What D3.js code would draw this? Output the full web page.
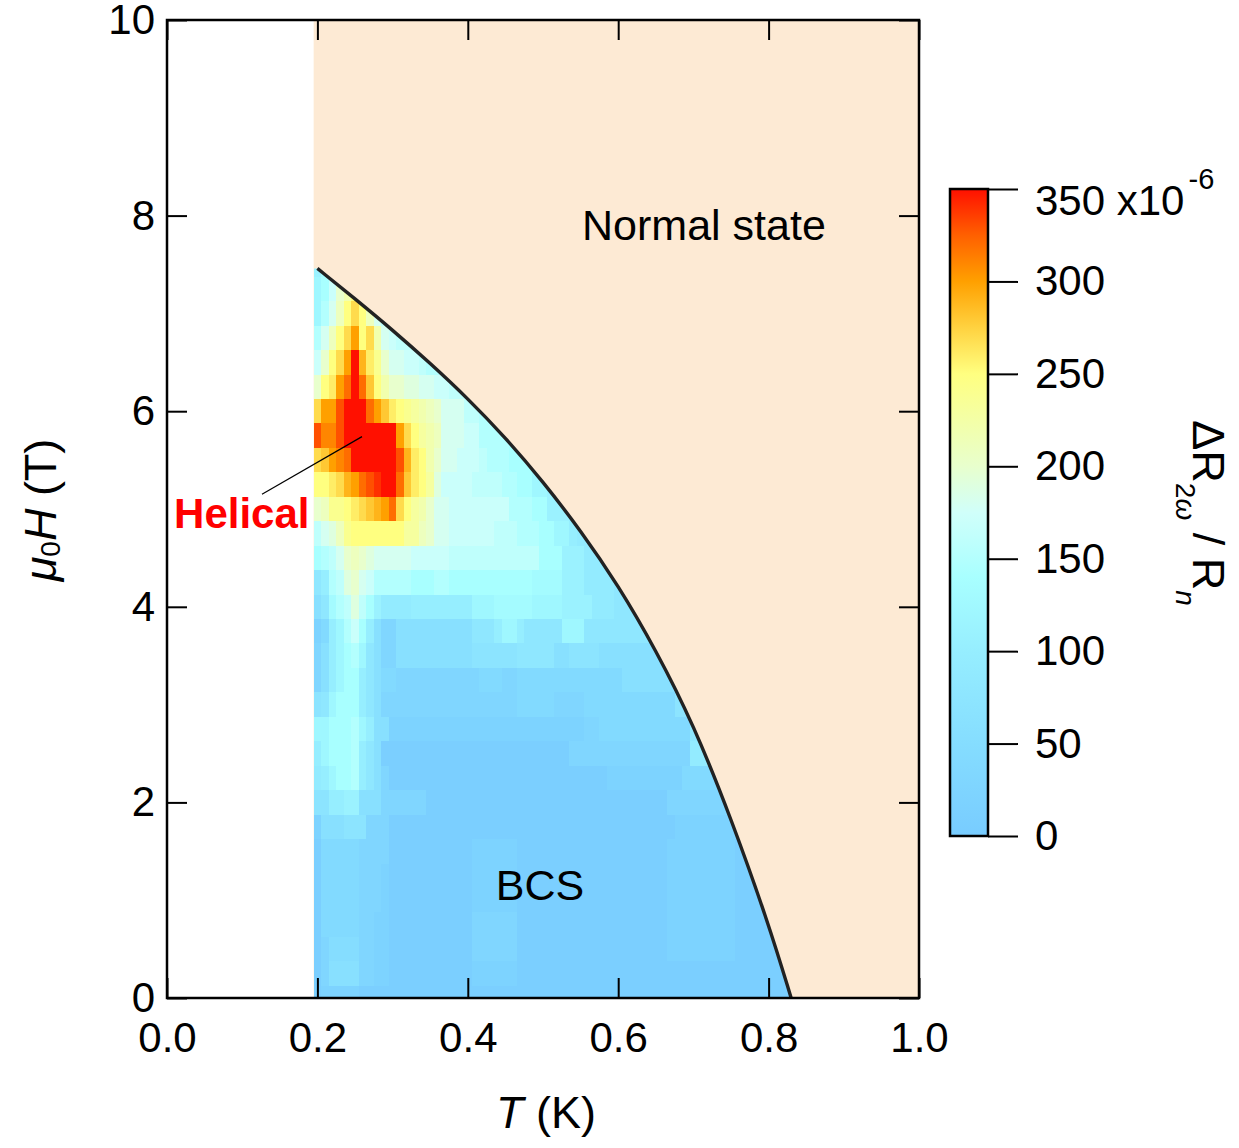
<!DOCTYPE html>
<html>
<head>
<meta charset="utf-8">
<script src="https://cdn.jsdelivr.net/npm/d3@7"></script>
<style>
body { margin: 0; background: #fff; }
text { font-family: "Liberation Sans", Arial, sans-serif; fill: #000; }
</style>
</head>
<body>
<svg id="chart" width="1239" height="1148"></svg>
<script>
// temperature columns (K), one per heatmap column
const temps = [0.20, 0.21, 0.22, 0.23, 0.24, 0.25, 0.26, 0.27, 0.28, 0.29,
  0.30, 0.31, 0.32, 0.33, 0.34, 0.35, 0.36, 0.37, 0.38, 0.39,
  0.40, 0.41, 0.42, 0.43, 0.44, 0.45, 0.46, 0.47, 0.48, 0.49,
  0.50, 0.51, 0.52, 0.53, 0.54, 0.55, 0.56, 0.57, 0.58, 0.59,
  0.60, 0.61, 0.62, 0.63, 0.64, 0.65, 0.66, 0.67, 0.68, 0.69,
  0.70, 0.71, 0.72, 0.73, 0.74, 0.75, 0.76, 0.77, 0.78, 0.79,
  0.80, 0.81, 0.82, 0.83];

// field rows (T), top to bottom
const fields = [7.5, 7.25, 7, 6.75, 6.5, 6.25, 6, 5.75, 5.5, 5.25, 5, 4.75, 4.5, 4.25, 4,
  3.75, 3.5, 3.25, 3, 2.75, 2.5, 2.25, 2, 1.75, 1.5, 1.25, 1, 0.75, 0.5, 0.25, 0];

// dR2w/Rn (x1e-6), one char per cell, base-36 digit = value / 10
// (0 -> 0, a -> 100, k -> 200, u -> 300, z -> 350). cells past the row end = no data.
const rowCodes = [
  "bdgik",
  "cehkmpnkih",
  "cfilprpliggff",
  "filpruprmihggffe",
  "hkpruztqokiihhgffeee",
  "kpquwzwspmkkjjiihhgggeed",
  "ruuxzzzwusqponmlkiiiggffeed",
  "xvvxzzzzzzzurpnmliiihhffffeeedd",
  "rsuvwzzzzzzxtqpmkiihhhgfffeeedcc",
  "ppqrtuwxyzzwsqpnjhhhhggggffeeccbbbb",
  "kloopqrstuwrpnmkiihhhhhhhhfffeebbbaaa",
  "gijlopppppppnnlkiihhhhhhgggfffeecca99999",
  "efgiklkjiiiiihhhhhggggggggggggeeebbb999988",
  "8afgjkihfffffeeeffeeeeeeeeeeeddddbbb99998888",
  "68dfgjgeb9999aaaaaaaacccdddddccccbbbb999888888",
  "24acfhea6336666666666888acca88888ccc888888888888",
  "36acefc8633666666666677777788888667777666666666666",
  "36aceea864433333333333444334444444444444466666666666",
  "78ceeea8633333333333333333344444333344444444444477777",
  "cceeefca6622222222222222222222222222334444444444448888",
  "aceeefa861111111111111111111111111333333333333333399999",
  "9aceefa8631111111111111111111111111111122222222224444444",
  "77aabb6663333331111111111111111111111111111111133333333333",
  "266677733311111111111111111111111111111111111111222222222222",
  "1444443333111111111112222221111111111111111111122222222211111",
  "14444433321111111111122222211111111111111111111222222222111111",
  "144444333211111111111222222111111111111111111112222222221111111",
  "1444443322111111111113333331111111111111111111122222222211111111",
  "1355553322111111111113333331111111111111111111122222222211111111",
  "1366663322111111111112222221111111111111111111111111111111111111",
  "1222221111111111111111111111111111111111111111111111111111111111"
];

// upper critical field boundary Hc2(T)
const hcT = [0.20, 0.25, 0.30, 0.35, 0.40, 0.45, 0.50, 0.55, 0.60, 0.65, 0.70, 0.75, 0.80, 0.83];
const hcH = [7.46, 7.15, 6.83, 6.49, 6.13, 5.73, 5.28, 4.78, 4.22, 3.56, 2.80, 1.84, 0.76, 0.0];

// colour table of the colour bar
const colorVals = [0, 50, 100, 140, 175, 200, 250, 275, 300, 325, 350];
const colorHex = ["#78ccff", "#85ddff", "#96eeff", "#a8ffff", "#d0fffa", "#e8ffcd",
  "#ffff80", "#ffd240", "#ffa000", "#ff6000", "#ff1000"];

const xTicks = [0, 0.2, 0.4, 0.6, 0.8, 1.0];
const yTicks = [0, 2, 4, 6, 8, 10];
const cbTicks = [0, 50, 100, 150, 200, 250, 300, 350];

const svg = d3.select("#chart");
const x = d3.scaleLinear([0, 1], [167, 919]);
const y = d3.scaleLinear([0, 10], [998, 20]);
const color = d3.scaleLinear(colorVals, colorHex).clamp(true);

const dT = 0.01, dH = 0.25;
const curvePts = hcT.map((t, i) => ({t: t, h: hcH[i]}));
const smooth = d3.curveBasis;

// normal-state background
svg.append("rect")
  .attr("x", x(temps[0] - dT / 2))
  .attr("y", y(10))
  .attr("width", x(1) - x(temps[0] - dT / 2))
  .attr("height", y(0) - y(10))
  .attr("fill", "#fdead4");

// clip the map to the superconducting region under Hc2
const clip = svg.append("defs").append("clipPath").attr("id", "sc");
clip.append("path")
  .attr("d", d3.area()
    .x(d => x(d.t)).y0(y(0)).y1(d => y(d.h))
    .curve(smooth)(curvePts));
clip.append("rect")
  .attr("x", x(temps[0] - dT / 2))
  .attr("y", y(hcH[0]))
  .attr("width", x(hcT[0]) - x(temps[0] - dT / 2) + 1)
  .attr("height", y(0) - y(hcH[0]));

const cells = [];
fields.forEach((h, r) => {
  const row = rowCodes[r];
  for (let c = 0; c < row.length; c++) {
    cells.push({t: temps[c], h: h, v: parseInt(row[c], 36) * 10});
  }
});

const cw = x(dT) - x(0), ch = y(0) - y(dH);
svg.append("g")
  .attr("clip-path", "url(#sc)")
  .selectAll("rect")
  .data(cells)
  .enter().append("rect")
  .attr("x", d => x(d.t - dT / 2))
  .attr("y", d => y(d.h + dH / 2))
  .attr("width", cw + 0.5)
  .attr("height", ch + 0.5)
  .attr("fill", d => color(d.v))
  .attr("shape-rendering", "crispEdges");

// Hc2 line
svg.append("path")
  .datum(curvePts)
  .attr("d", d3.line().x(d => x(d.t)).y(d => y(d.h)).curve(smooth))
  .attr("fill", "none")
  .attr("stroke", "#222")
  .attr("stroke-width", 3.4);

// axes, ticks pointing inward on all four sides
function styleAxis(g) {
  g.select(".domain").remove();
  g.selectAll("line").attr("stroke", "#000").attr("stroke-width", 2);
  g.selectAll("text").style("font-size", "42px").attr("fill", "#000");
}
svg.append("g").attr("transform", `translate(0,${y(0)})`)
  .call(d3.axisBottom(x).tickValues(xTicks).tickFormat(d3.format(".1f"))
    .tickSizeInner(-20).tickSizeOuter(0).tickPadding(24))
  .call(styleAxis);
svg.append("g").attr("transform", `translate(0,${y(10)})`)
  .call(d3.axisTop(x).tickValues(xTicks).tickFormat("").tickSizeInner(-20).tickSizeOuter(0))
  .call(styleAxis);
svg.append("g").attr("transform", `translate(${x(0)},0)`)
  .call(d3.axisLeft(y).tickValues(yTicks).tickSizeInner(-20).tickSizeOuter(0).tickPadding(12))
  .call(styleAxis);
svg.append("g").attr("transform", `translate(${x(1)},0)`)
  .call(d3.axisRight(y).tickValues(yTicks).tickFormat("").tickSizeInner(-20).tickSizeOuter(0))
  .call(styleAxis);

svg.append("rect")
  .attr("x", x(0)).attr("y", y(10))
  .attr("width", x(1) - x(0)).attr("height", y(0) - y(10))
  .attr("fill", "none").attr("stroke", "#000").attr("stroke-width", 2.5);

// annotations
svg.append("text")
  .attr("x", x(0.714)).attr("y", y(7.75))
  .attr("text-anchor", "middle").style("font-size", "43px")
  .text("Normal state");
svg.append("text")
  .attr("x", x(0.496)).attr("y", y(1.0))
  .attr("text-anchor", "middle").style("font-size", "43px")
  .text("BCS");
svg.append("line")
  .attr("x1", x(0.1263)).attr("y1", y(5.15))
  .attr("x2", x(0.2593)).attr("y2", y(5.74))
  .attr("stroke", "#000").attr("stroke-width", 1.2);
svg.append("text")
  .attr("x", x(0.1895)).attr("y", y(4.81))
  .attr("text-anchor", "end").style("font-size", "42px")
  .style("font-weight", "bold").style("fill", "#ff0000")
  .text("Helical");

// axis titles
const xt = svg.append("text")
  .attr("x", 546).attr("y", 1128)
  .attr("text-anchor", "middle").style("font-size", "45px");
xt.append("tspan").style("font-style", "italic").text("T");
xt.append("tspan").text(" (K)");

const yt = svg.append("text")
  .attr("transform", "translate(56,510) rotate(-90)")
  .attr("text-anchor", "middle").style("font-size", "45px");
yt.append("tspan").style("font-style", "italic").text("μ");
yt.append("tspan").attr("dy", 4).style("font-size", "28px").text("0");
yt.append("tspan").attr("dy", -4).style("font-style", "italic").text("H");
yt.append("tspan").text(" (T)");

// colour bar
const cb = d3.scaleLinear([0, 350], [836, 189]);
const grad = svg.select("defs").append("linearGradient")
  .attr("id", "cbgrad").attr("x1", 0).attr("y1", 1).attr("x2", 0).attr("y2", 0);
grad.selectAll("stop")
  .data(colorVals)
  .enter().append("stop")
  .attr("offset", d => d / 350)
  .attr("stop-color", d => color(d));
svg.append("rect")
  .attr("x", 950).attr("y", cb(350))
  .attr("width", 38).attr("height", cb(0) - cb(350))
  .attr("fill", "url(#cbgrad)")
  .attr("stroke", "#000").attr("stroke-width", 2.5);
const cbAxis = svg.append("g").attr("transform", "translate(988,0)")
  .call(d3.axisRight(cb).tickValues(cbTicks).tickSizeInner(30).tickSizeOuter(0).tickPadding(17))
  .call(styleAxis);
// top label sits a little below its tick and carries the x10^-6 factor
const topLabel = cbAxis.selectAll(".tick text").filter(d => d === 350)
  .attr("y", 12).style("white-space", "pre");
topLabel.append("tspan").text(" x10");
topLabel.append("tspan").attr("dx", 4).attr("dy", -26).style("font-size", "29px").text("-6");

const ct = svg.append("text")
  .attr("transform", "translate(1193,513) rotate(90)")
  .attr("text-anchor", "middle").style("font-size", "45px");
ct.append("tspan").text("ΔR");
ct.append("tspan").attr("dy", 17).style("font-size", "28px").text("2");
ct.append("tspan").style("font-size", "28px").style("font-style", "italic").text("ω");
ct.append("tspan").attr("dy", -17).style("white-space", "pre").text(" / R");
ct.append("tspan").attr("dy", 17).style("font-size", "28px").style("font-style", "italic").text("n");
</script>
</body>
</html>
